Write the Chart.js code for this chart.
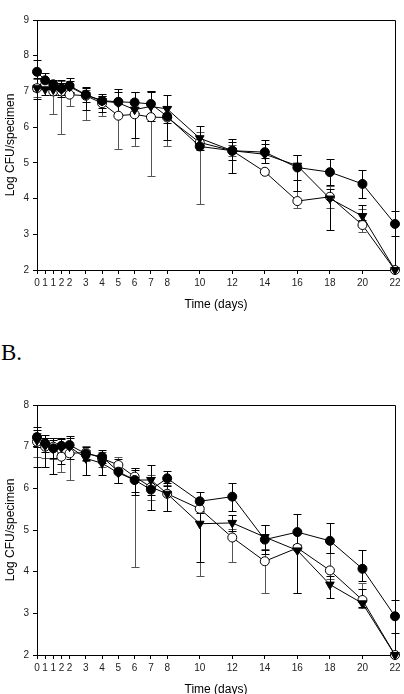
<!DOCTYPE html>
<html>
<head>
<meta charset="utf-8">
<script src="https://cdn.jsdelivr.net/npm/chart.js@4/dist/chart.umd.min.js"></script>
<style>
  html, body { margin: 0; padding: 0; background: #fff; width: 404px; height: 694px; overflow: hidden; }
  .box { position: absolute; left: 0; width: 404px; height: 315px; }
  #labelB { position: absolute; left: 1px; top: 339px; font-family: "Liberation Serif", "Times New Roman", serif; font-size: 23px; color: #000; line-height: 28px; }
</style>
</head>
<body>
<div class="box" style="top:0px"><canvas id="chartA"></canvas></div>
<div id="labelB">B.</div>
<div class="box" style="top:385px"><canvas id="chartB"></canvas></div>
<script>
// ---- shared x positions (days) and tick labels ----
const days = [0, 0.5, 1, 1.5, 2, 3, 4, 5, 6, 7, 8, 10, 12, 14, 16, 18, 20, 22];
const dayLabels = ['0','1','1','2','2','3','4','5','6','7','8','10','12','14','16','18','20','22'];
const xTitle = 'Time (days)';
const yTitle = 'Log CFU/specimen';

// ---- Panel A ----
const aFilled     = [7.55,7.31,7.20,7.09,7.16,6.91,6.74,6.71,6.69,6.65,6.30,5.46,5.34,5.30,4.87,4.74,4.41,3.29];
const aFilledUp   = [0.33,0.20,0.12,0.24,0.21,0.21,0.19,0.36,0.29,0.35,0.30,0.10,0.33,0.34,0.35,0.37,0.39,0.35];
const aFilledDn   = [0.33,0.20,0.12,0.20,0.20,0.21,0.19,0.36,0.29,0.35,0.66,0.10,0.63,0.30,0.35,0.37,0.39,0.35];
const aOpen       = [7.09,7.18,7.00,7.00,6.91,6.88,6.67,6.32,6.36,6.28,6.27,5.57,5.34,4.75,3.93,4.05,3.26,2.00];
const aOpenUp     = [0.25,0.12,0.20,0.30,0.20,0.15,0.20,0.40,0.20,0.72,0.30,0.30,0.15,0.05,0.28,0.30,0.46,0];
const aOpenDn     = [0.25,0.12,0.64,1.20,0.33,0.68,0.35,0.94,0.88,1.66,0.81,1.72,0.15,0.05,0.20,0.30,0.20,0];
const aTri        = [7.09,7.06,7.05,7.05,7.13,6.90,6.73,6.68,6.49,6.58,6.51,5.69,5.34,5.24,4.92,4.00,3.51,2.00];
const aTriUp      = [0.30,0.15,0.15,0.20,0.15,0.20,0.15,0.30,0.49,0.40,0.40,0.33,0.25,0.30,0.30,0.26,0.32,0];
const aTriDn      = [0.30,0.15,0.15,0.20,0.15,0.42,0.30,0.30,0.80,0.40,0.40,0.20,0.25,0.10,0.70,0.88,0.10,0];
const aYMin = 2, aYMax = 9;

// ---- Panel B ----
const bFilled     = [7.23,7.08,6.96,7.02,7.04,6.83,6.76,6.40,6.20,5.97,6.24,5.69,5.80,4.77,4.95,4.74,4.07,2.93];
const bFilledUp   = [0.25,0.20,0.24,0.18,0.22,0.16,0.15,0.30,0.29,0.30,0.18,0.23,0.34,0.35,0.44,0.43,0.44,0.40];
const bFilledDn   = [0.25,0.20,0.24,0.18,0.22,0.16,0.15,0.28,0.29,0.48,0.18,0.23,0.34,0.35,0.30,0.30,0.30,0.40];
const bOpen       = [7.12,7.00,7.00,6.76,6.84,6.86,6.72,6.56,6.28,6.03,5.87,5.51,4.82,4.25,4.57,4.03,3.32,2.00];
const bOpenUp     = [0.20,0.20,0.20,0.20,0.20,0.15,0.15,0.19,0.21,0.30,0.20,0.20,0.20,0.30,0.10,0.41,0.41,0];
const bOpenDn     = [0.36,0.26,0.30,0.36,0.64,0.20,0.20,0.20,2.17,0.30,0.42,1.62,0.60,0.77,1.08,0.20,0.20,0];
const bTri        = [7.15,7.02,6.95,6.98,7.00,6.72,6.60,6.37,6.20,6.20,5.87,5.15,5.17,4.83,4.51,3.69,3.24,2.00];
const bTriUp      = [0.25,0.20,0.20,0.20,0.20,0.20,0.20,0.25,0.25,0.36,0.25,0.25,0.20,0.30,0.10,0.20,0.35,0];
const bTriDn      = [0.64,0.50,0.60,0.40,0.30,0.40,0.28,0.25,0.35,0.36,0.42,0.93,0.20,0.30,1.02,0.31,0.10,0];
const bYMin = 2, bYMax = 8;

const pts = (ys) => ys.map((y, i) => ({ x: days[i], y: y }));

function series(vals, up, dn, style, barColor) {
  const base = {
    data: pts(vals), errUp: up, errDn: dn, barColor: barColor,
    borderColor: '#000', borderWidth: 1, showLine: true, tension: 0, clip: false,
    pointBorderColor: '#000', pointBorderWidth: 1
  };
  if (style === 'filled') Object.assign(base, { pointStyle: 'circle', pointRadius: 4.5, pointBackgroundColor: '#000', backgroundColor: '#000' });
  if (style === 'open') Object.assign(base, { pointStyle: 'circle', pointRadius: 4.5, pointBackgroundColor: '#fff', backgroundColor: '#fff' });
  if (style === 'tri') Object.assign(base, { pointStyle: 'triangle', pointRotation: 180, pointRadius: 5, pointBackgroundColor: '#000', backgroundColor: '#000' });
  return base;
}

const errorBars = {
  id: 'errorBars',
  beforeDatasetsDraw(chart) {
    const ctx = chart.ctx, xs = chart.scales.x, ys = chart.scales.y;
    ctx.save();
    ctx.lineWidth = 1;
    chart.data.datasets.slice().reverse().forEach(ds => {
      ctx.strokeStyle = ds.barColor;
      ds.data.forEach((p, i) => {
        const px = Math.round(xs.getPixelForValue(p.x)) + 0.5;
        const segs = [];
        if (ds.errUp[i] > 0) segs.push(p.y + ds.errUp[i]);
        if (ds.errDn[i] > 0) segs.push(p.y - ds.errDn[i]);
        segs.forEach(v => {
          const py0 = ys.getPixelForValue(p.y);
          const py1 = Math.round(ys.getPixelForValue(v)) + 0.5;
          ctx.beginPath();
          ctx.moveTo(px, py0); ctx.lineTo(px, py1);
          ctx.moveTo(px - 4, py1); ctx.lineTo(px + 4, py1);
          ctx.stroke();
        });
      });
    });
    ctx.restore();
  }
};

const frame = {
  id: 'frame',
  beforeDatasetsDraw(chart) {
    const { left, right, top, bottom } = chart.chartArea;
    const ctx = chart.ctx;
    ctx.save();
    ctx.strokeStyle = '#000'; ctx.lineWidth = 1;
    ctx.beginPath();
    ctx.moveTo(Math.round(left) + 0.5, Math.round(top) + 0.5);
    ctx.lineTo(Math.round(right) + 0.5, Math.round(top) + 0.5);
    ctx.lineTo(Math.round(right) + 0.5, Math.round(bottom) + 0.5);
    ctx.stroke();
    ctx.restore();
  }
};

function makeChart(id, datasets, yMin, yMax) {
  return new Chart(document.getElementById(id), {
    type: 'scatter',
    data: { datasets: datasets },
    plugins: [frame, errorBars],
    options: {
      animation: false, responsive: true, maintainAspectRatio: false,
      layout: { padding: { top: 20, right: 9, left: 0, bottom: 0 } },
      plugins: { legend: { display: false }, tooltip: { enabled: false } },
      scales: {
        x: {
          type: 'linear', min: 0, max: 22,
          afterBuildTicks: s => { s.ticks = days.map(v => ({ value: v })); },
          afterFit: s => { s.height = 45; },
          ticks: { autoSkip: false, maxRotation: 0, padding: 3, color: '#222',
                   font: { family: 'Liberation Sans, Arial, sans-serif', size: 10 },
                   callback: (v, i) => dayLabels[i] },
          grid: { drawOnChartArea: false, tickLength: 4, color: '#000', tickColor: '#000' },
          border: { color: '#000', width: 1 },
          title: { display: true, text: xTitle, color: '#000', padding: { top: 3, bottom: 3 },
                   font: { family: 'Liberation Sans, Arial, sans-serif', size: 12 } }
        },
        y: {
          min: yMin, max: yMax,
          afterFit: s => { s.width = 37; },
          ticks: { stepSize: 1, padding: 4, color: '#222',
                   font: { family: 'Liberation Sans, Arial, sans-serif', size: 10 } },
          grid: { drawOnChartArea: false, tickLength: 4, color: '#000', tickColor: '#000' },
          border: { color: '#000', width: 1 },
          title: { display: true, text: yTitle, color: '#000', padding: { top: 3, bottom: 3 },
                   font: { family: 'Liberation Sans, Arial, sans-serif', size: 12 } }
        }
      }
    }
  });
}

makeChart('chartA', [
  series(aFilled, aFilledUp, aFilledDn, 'filled', '#000'),
  series(aTri, aTriUp, aTriDn, 'tri', '#000'),
  series(aOpen, aOpenUp, aOpenDn, 'open', '#555')
], aYMin, aYMax);

makeChart('chartB', [
  series(bFilled, bFilledUp, bFilledDn, 'filled', '#000'),
  series(bTri, bTriUp, bTriDn, 'tri', '#000'),
  series(bOpen, bOpenUp, bOpenDn, 'open', '#555')
], bYMin, bYMax);
</script>
</body>
</html>
